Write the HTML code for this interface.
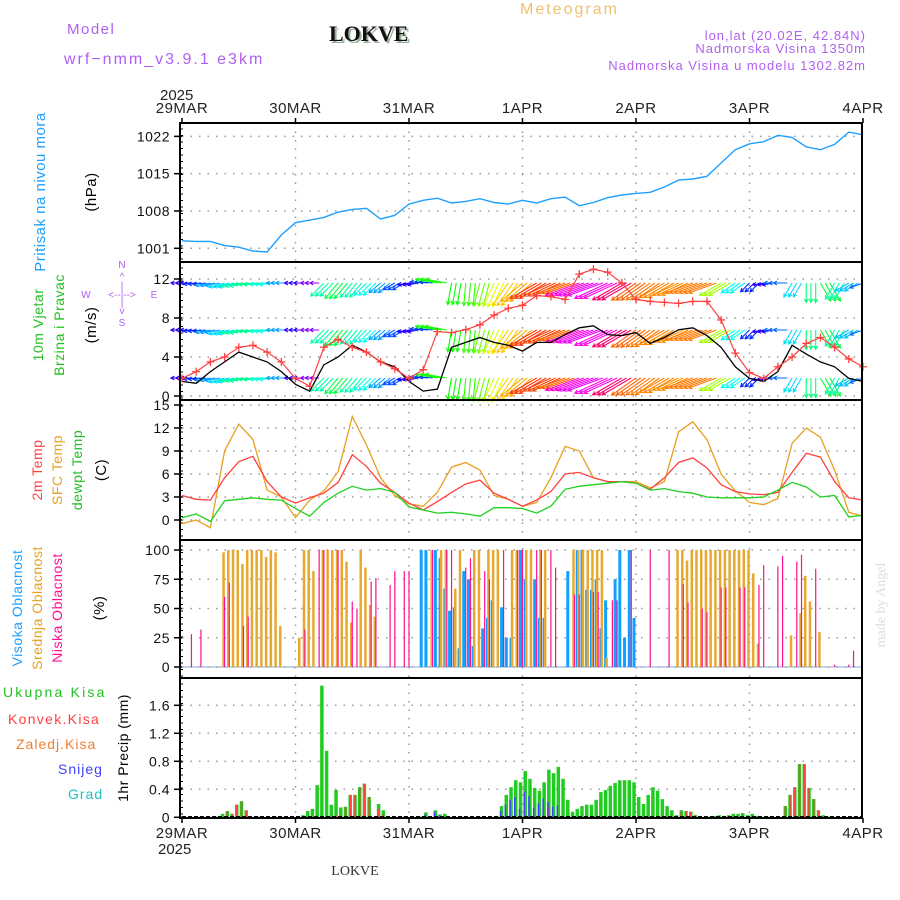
<!DOCTYPE html>
<html><head><meta charset="utf-8">
<style>
html,body{margin:0;padding:0;background:#fff;}
svg{display:block;font-family:"Liberation Sans",sans-serif;}
</style></head>
<body>
<svg id="chart" width="900" height="900" viewBox="0 0 900 900" xmlns="http://www.w3.org/2000/svg">
<rect x="0" y="0" width="900" height="900" fill="#fff"/>
<text x="67" y="34" font-size="15" fill="#b060f0" letter-spacing="1.5">Model</text>
<text x="64" y="64" font-size="16" fill="#b060f0" letter-spacing="2">wrf−nmm_v3.9.1 e3km</text>
<text x="331" y="43" font-size="22" font-weight="bold" font-family="Liberation Serif,serif" fill="#9ab09a">LOKVE</text>
<text x="329" y="41" font-size="22" font-weight="bold" font-family="Liberation Serif,serif" fill="#111">LOKVE</text>
<text x="520" y="14" font-size="16" fill="#f0c070" letter-spacing="2">Meteogram</text>
<text x="866" y="40" font-size="13" fill="#b060f0" text-anchor="end" letter-spacing="1">lon,lat (20.02E, 42.84N)</text>
<text x="866" y="53" font-size="13" fill="#b060f0" text-anchor="end" letter-spacing="1">Nadmorska Visina 1350m</text>
<text x="866" y="70" font-size="13" fill="#b060f0" text-anchor="end" letter-spacing="1">Nadmorska Visina u modelu 1302.82m</text>
<text x="355" y="875" font-size="14" font-family="Liberation Serif,serif" fill="#333" text-anchor="middle">LOKVE</text>
<text transform="translate(885,605) rotate(-90)" font-size="14" fill="#d8e0d8" text-anchor="middle" font-family="Liberation Serif,serif">made by Angel</text>
<g id="plots"></g>
</svg>
<script>
// ===== DATA =====
const dayLabels = ["29MAR","30MAR","31MAR","1APR","2APR","3APR","4APR"];
// 3-hourly series (index i -> hour i*3)
const pressure = [1002.4,1002.3,1002.3,1001.5,1001.2,1000.5,1000.3,1003.5,1005.8,1006.3,1006.8,1007.8,1008.3,1008.5,1006.5,1007.2,1009.3,1010,1010.4,1009.5,1009.8,1010.3,1009.6,1009.3,1010,1009.5,1010.3,1010.6,1009,1009.6,1010.5,1011,1011.3,1011.5,1012.5,1013.8,1014,1014.5,1017,1019.5,1020.6,1021,1022.2,1021.8,1020,1019.5,1020.5,1022.8,1022.3];
const windSpeed = [1.5,1.3,2.5,3.5,4.5,4.0,3.5,2.5,1.2,0.5,3.2,4.0,5.2,4.5,3.5,3.0,1.5,0.5,0.7,5.0,5.5,6.0,5.5,5.2,4.6,5.5,5.5,6.3,7.0,7.2,6.3,6.2,6.5,5.4,6.0,6.8,7.0,6.2,5.0,3.0,1.8,1.5,2.5,5.2,4.3,3.5,3.0,1.8,1.5];
const windGust = [1.8,2.5,3.5,4.0,5.0,5.2,4.5,3.5,1.8,1.0,5.0,5.8,5.0,4.5,3.5,2.8,1.8,2.7,6.6,6.5,6.8,7.3,8.3,9.0,9.3,10.3,10.2,9.9,12.5,13.0,12.7,11.6,9.9,9.7,9.6,9.5,9.7,9.7,7.8,4.4,2.4,1.8,3.0,4.0,5.4,6.0,5.0,3.8,3.0];
const windDir = [90,85,80,75,80,85,85,90,90,90,45,40,40,45,50,60,80,95,100,10,5,15,25,35,50,60,65,70,70,70,65,60,55,55,60,65,70,70,60,55,45,80,90,30,0,330,30,60,70];
const temp2m = [3.2,2.7,2.6,5.5,7.6,8.3,5.0,3.0,2.2,2.9,3.5,4.9,8.5,7.0,4.8,3.6,2.2,1.3,2.4,3.6,4.7,5.2,3.5,2.7,1.8,2.6,3.7,6.0,6.2,5.5,5.0,5.0,4.8,4.0,5.5,7.5,8.1,6.8,4.6,3.7,3.4,3.3,3.6,6.2,8.7,8.2,5.0,2.9,2.6];
const tempSfc = [-0.5,0,-1.0,9.0,12.5,10.5,3.9,3.0,0.3,2.6,3.8,6.3,13.5,9.8,5.5,3.2,2.1,1.8,3.6,6.9,7.5,6.5,3.2,2.7,1.8,2.3,5.5,9.6,9.0,5.5,5.0,5.0,5.0,4.2,5.0,11.5,12.8,10.5,6.0,3.8,2.3,2.0,2.8,10.0,12.0,10.8,6.5,1.0,0.5];
const tempDew = [0.3,0.8,-0.2,2.5,2.7,2.9,2.7,2.6,1.5,0.5,2.3,3.5,4.4,3.9,4.1,3.6,1.7,1.3,0.9,1.0,0.8,0.5,1.6,1.6,1.5,0.9,1.8,4.0,4.4,4.6,4.8,5.0,4.8,3.9,4.1,3.7,3.5,3.0,2.9,2.9,2.9,3.0,3.9,4.9,4.3,3.0,3.2,0.4,0.6];
// hourly cloud (hour, percent)
const midHours = [9,10,11,12,13,14,15,16,17,18,19,20,21,25,26,27,28,30,31,32,33,34,35,36,38,39,40,41,53,55,56,58,59,62,63,65,66,67,70,71,73,74,76,77,83,84,85,86,87,88,89,90,105,106,107,108,109,110,111,112,113,114,115,116,117,118,119,120,121,122,129,131,132,133,135];
const midVals  = [98,100,100,100,88,100,100,100,100,94,100,98,35,25,100,100,82,100,100,100,100,100,90,38,100,85,53,43,100,100,100,67,100,100,100,100,100,100,100,100,100,100,100,100,100,100,100,100,100,100,100,8,100,100,91,100,100,100,100,100,100,100,100,100,100,100,100,100,80,20,27,46,78,56,30];
const lowHours = [2,4,9,10,13,14,26,29,30,33,36,37,40,41,44,45,47,48,53,56,57,60,61,64,65,68,71,72,75,76,78,79,83,84,87,88,91,92,95,99,103,106,107,110,111,114,115,118,119,122,123,126,127,130,131,134,138,141,142];
const lowVals  = [28,32,60,72,35,43,32,100,100,100,56,50,73,76,70,82,82,82,100,100,100,85,93,82,75,100,100,100,100,100,100,85,62,62,64,64,57,57,100,100,100,71,55,50,47,68,68,68,68,70,87,86,95,90,96,84,2,2,14];
const highHours = [51,52,54,55,56,57,58,59,60,61,62,64,65,66,68,69,70,72,73,75,76,77,82,84,85,86,87,88,89,90,92,93,94,95,96];
const highVals  = [100,100,100,93,67,48,51,16,82,75,18,33,42,57,51,25,25,100,75,75,42,42,82,100,100,66,66,75,33,57,75,100,25,100,42];
// hourly precipitation (hour, mm)
const rainHours = [9,10,11,12,13,14,26,27,28,29,30,31,32,33,34,35,36,37,38,39,40,42,43,52,54,55,56,67,68,69,70,71,72,73,74,75,76,77,78,79,80,81,82,83,84,85,86,87,88,89,90,91,92,93,94,95,96,97,98,99,100,101,102,103,104,105,106,107,108,109,113,114,115,116,117,118,119,120,121,122,128,129,130,131,132,133,134,135,136];
const rainVals  = [0.05,0.09,0.05,0.18,0.23,0.1,0.03,0.09,0.12,0.46,1.88,0.95,0.18,0.39,0.14,0.15,0.32,0.32,0.43,0.48,0.29,0.19,0.1,0.07,0.1,0.04,0.05,0.02,0.16,0.32,0.43,0.53,0.5,0.66,0.55,0.42,0.38,0.5,0.68,0.63,0.72,0.55,0.25,0.08,0.12,0.16,0.18,0.18,0.25,0.36,0.39,0.45,0.49,0.53,0.53,0.53,0.5,0.29,0.19,0.32,0.43,0.38,0.26,0.16,0.1,0.03,0.1,0.09,0.08,0.03,0.02,0.03,0.02,0.03,0.05,0.05,0.06,0.03,0.05,0.02,0.16,0.32,0.43,0.76,0.76,0.42,0.26,0.1,0.03];
const convHours = [10,11,12,13,14,15,33,35,36,37,38,39,40,42,43,78,106,107,108,109,128,129,130,131,132,133,134,135];
const convVals  = [0.09,0.05,0.18,0.23,0.1,0.01,0.03,0.15,0.32,0.32,0.43,0.48,0.29,0.12,0.05,0.15,0.1,0.09,0.08,0.03,0.16,0.32,0.43,0.76,0.76,0.42,0.26,0.1];
const snowHours = [52,54,55,68,69,70,71,72,73,74,75,76,77,78,79,80];
const snowVals  = [0.04,0.08,0.03,0.09,0.18,0.25,0.29,0.12,0.37,0.3,0.14,0.2,0.27,0.22,0.15,0.17];
const pTicks = [1001,1008,1015,1022];
const wTicks = [0,4,8,12];
const tTicks = [0,3,6,9,12,15];
const cTicks = [0,25,50,75,100];
const rTicks = [0,0.4,0.8,1.2,1.6];

// ===== SCALES =====
const X0 = 182, DAYW = 113.5;
const xH = h => X0 + h*DAYW/24;
const yP = v => 248.3 - (v-1001)*5.33;
const yW = v => 396 - v*9.75;
const yT = v => 520 - v*7.67;
const yC = v => 667 - v*1.17;
const yR = v => 817.3 - v*70;
const panels = [[123,262],[262,400],[400,540],[540,678],[678,818]];
const NS = "http://www.w3.org/2000/svg";
const G = document.getElementById("plots");
function mk(tag, attrs, parent){
  const e = document.createElementNS(NS, tag);
  for (const k in attrs) e.setAttribute(k, attrs[k]);
  (parent||G).appendChild(e); return e;
}
function txt(x,y,s,attrs){ const t = mk("text", Object.assign({x:x,y:y},attrs)); t.textContent = s; return t; }

function axis(ticks, yf, fmt, top, bot, name){
  ticks.forEach(t=>{
    const y = yf(t);
    const gl = mk("line",{x1:182,x2:862,y1:y,y2:y,stroke:"#999","stroke-width":1.5,"stroke-dasharray":"1.5,7"});
    
    
    mk("line",{x1:174,x2:182,y1:y,y2:y,stroke:"#000","stroke-width":1.5});
    const l = txt(170, y+5, fmt(t), {"font-size":14,"text-anchor":"end",fill:"#111","letter-spacing":"0.5"});
    
    
  });
  for (let y=top+6; y<bot; y+=6.5) mk("line",{x1:180,x2:183,y1:y,y2:y,stroke:"#000","stroke-width":1});
}
for (let d=1; d<6; d++){
  const vl = mk("line",{x1:xH(d*24),x2:xH(d*24),y1:123,y2:818,stroke:"#999","stroke-width":1.5,"stroke-dasharray":"1.5,7"});
  
  
}
axis(pTicks,yP,String,123,262,"pressure");
axis(wTicks,yW,String,262,400,"wind");
axis(tTicks,yT,String,400,540,"temp");
axis(cTicks,yC,String,540,678,"cloud");
axis(rTicks,yR,v=>String(v),678,818,"precip");

dayLabels.forEach((d,i)=>{
  const x = xH(i*24);
  const t1 = txt(x, 113, d, {"font-size":15,"text-anchor":"middle",fill:"#222","letter-spacing":"0.5"});
  
  
  const t2 = txt(x, 838, d, {"font-size":15,"text-anchor":"middle",fill:"#222","letter-spacing":"0.5"});
  
  
  mk("line",{x1:x,x2:x,y1:118,y2:123,stroke:"#000","stroke-width":1.5});
  mk("line",{x1:x,x2:x,y1:818,y2:823,stroke:"#000","stroke-width":1.5});
});
txt(160,100,"2025",{"font-size":15,fill:"#222"});
txt(158,854,"2025",{"font-size":15,fill:"#222"});

function line(vals, yf, color, name, w){
  const d = vals.map((v,i)=>(i?"L":"M")+xH(i*3).toFixed(1)+","+yf(v).toFixed(1)).join("");
  const p = mk("path",{d:d,fill:"none",stroke:color,"stroke-width":w||1.3});
  
  
}
line(pressure, yP, "#1ea0ff", "pressure-line", 1.4);

// wind arrows
const rowY = [283, 330, 378];
function hue(g){ let h = 300 - g*28; if (h<0) h+=360; return "hsl("+h+",100%,50%)"; }
windDir.forEach((dir,i)=>{
  const g = windGust[i];
  const len = 7 + g*2.3;
  const rad = dir*Math.PI/180;
  const dx = -Math.sin(rad), dy = Math.cos(rad);
  for (let k=0;k<3;k++){
    if (i===windDir.length-1 && k>0) break;
    const x0 = xH(i*3+k);
    rowY.forEach(y0=>{
      const x1 = x0+dx*len, y1 = y0+dy*len;
      const a1 = Math.atan2(dy,dx);
      const hx1 = x1 - 4*Math.cos(a1-0.5), hy1 = y1 - 4*Math.sin(a1-0.5);
      const hx2 = x1 - 4*Math.cos(a1+0.5), hy2 = y1 - 4*Math.sin(a1+0.5);
      const a = mk("path",{d:`M${x0},${y0}L${x1},${y1}M${hx1},${hy1}L${x1},${y1}L${hx2},${hy2}`,stroke:hue(g),"stroke-width":1.1,fill:"none"});
      
      
    });
  }
});
line(windSpeed, yW, "#000", "wind-speed-line", 1.3);
line(windGust, yW, "#ff4040", "wind-gust-line", 1.2);
windGust.forEach((v,i)=>{
  const x=xH(i*3), y=yW(v);
  const m = mk("path",{d:`M${x-4},${y}H${x+4}M${x},${y-4}V${y+4}`,stroke:"#ff4040","stroke-width":1.3});
  
  
});

line(tempSfc, yT, "#e8a020", "sfc-temp-line", 1.3);
line(temp2m, yT, "#ff4040", "temp-2m-line", 1.3);
line(tempDew, yT, "#20d020", "dewpoint-line", 1.3);

function bars(hours, vals, yf, color, w, off, name){
  hours.forEach((h,i)=>{
    const x = xH(h)+off, y = yf(vals[i]), y0 = yf(0);
    const r = mk("rect",{x:x-w/2,y:y,width:w,height:Math.max(0,y0-y),fill:color});
    
    
  });
}
mk("line",{x1:182,x2:862,y1:yC(0),y2:yC(0),stroke:"#88aacc","stroke-width":1});
bars(highHours, highVals, yC, "#10a0ff", 3, -2, "high-cloud-bar");
bars(midHours, midVals, yC, "#e8a830", 2.5, -1, "mid-cloud-bar");
bars(lowHours, lowVals, yC, "#ff1090", 1.2, 0, "low-cloud-bar");

bars(rainHours, rainVals, yR, "#20cc20", 3.5, -2, "total-precip-bar");
bars(convHours, convVals, yR, "#ff4040", 1.5, -2, "convective-precip-bar");
bars(snowHours, snowVals, yR, "#4040ff", 1.5, -3, "snow-bar");
mk("line",{x1:182,x2:862,y1:817,y2:817,stroke:"#000","stroke-width":2,"stroke-dasharray":"4,2"});

panels.forEach(p=>{
  const r = mk("rect",{x:180,y:p[0],width:682,height:p[1]-p[0],fill:"none",stroke:"#000","stroke-width":2});
  
  
});

function vlabel(x,yc,s,color,name,size){
  const t = txt(0,0,s,{transform:`translate(${x},${yc}) rotate(-90)`,"font-size":size||14,"text-anchor":"middle",fill:color,"letter-spacing":"0.5"});
  
  
}
vlabel(45,192,"Pritisak na nivou mora","#1ea0ff","pressure-title",15);
vlabel(96,192,"(hPa)","#000","pressure-unit",15);
vlabel(43,325,"10m Vjetar","#20c020","wind-title");
vlabel(64,325,"Brzina i Pravac","#20c020","wind-subtitle");
vlabel(96,325,"(m/s)","#000","wind-unit",15);
vlabel(42,470,"2m Temp","#ff4040","temp2m-title");
vlabel(62,470,"SFC Temp","#e8a020","sfc-temp-title");
vlabel(82,470,"dewpt Temp","#20c020","dewpoint-title");
vlabel(106,470,"(C)","#000","temp-unit",15);
vlabel(22,608,"Visoka Oblacnost","#1ea0ff","high-cloud-title");
vlabel(42,608,"Srednja Oblacnost","#e8a020","mid-cloud-title");
vlabel(62,608,"Niska Oblacnost","#ff1090","low-cloud-title");
vlabel(104,608,"(%)","#000","cloud-unit",15);
vlabel(128,748,"1hr Precip (mm)","#000","precip-unit",14);
[["N",122,268],["^",122,280],["|",122,289],["W",86,298],["<--|-->",122,298],["E",154,298],["|",122,306],["v",122,314],["S",122,326]].forEach(c=>{
  const t = txt(c[1],c[2],c[0],{"font-size":10,"text-anchor":"middle",fill:"#b060f0"});
  
  
});
[["Ukupna Kisa","#20c020",3,697,2.2],["Konvek.Kisa","#ff4040",8,724,1.3],["Zaledj.Kisa","#f08030",16,749,1],["Snijeg","#4040ff",58,774,1],["Grad","#20c0c0",68,799,1]].forEach(l=>{
  const t = txt(l[2],l[3],l[0],{"font-size":14,fill:l[1],"letter-spacing":l[4]});
  
  
});
</script>
</body></html>
